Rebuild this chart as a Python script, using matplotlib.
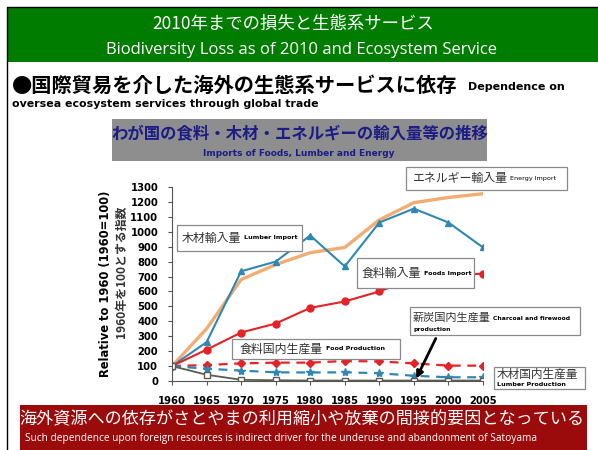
import numpy as np
import matplotlib.pyplot as plt
from matplotlib.patches import Rectangle, FancyArrowPatch

plt.rcParams['font.family'] = ['Noto Sans CJK JP', 'DejaVu Sans']

# 1960=100 とする指数
years = [1960, 1965, 1970, 1975, 1980, 1985, 1990, 1995, 2000, 2005]
energy_import = [100, 350, 680, 780, 860, 895, 1080, 1195, 1230, 1255]
lumber_import = [100, 260, 735, 800, 975, 768, 1062, 1155, 1062, 895]
foods_import = [100, 210, 325, 385, 490, 533, 600, 690, 715, 718]
food_prod = [100, 107, 118, 123, 123, 134, 131, 118, 103, 103]
lumber_prod = [100, 82, 70, 58, 57, 58, 52, 35, 25, 25]
charcoal_prod = [100, 42, 8, 5, 3, 3, 3, 3, 3, 3]
yticks = list(range(0, 1400, 100))

W, H = 598, 450
fig = plt.figure(figsize=(W / 100, H / 100), dpi=100)


def fx(x):
    return x / W


def fy(y):
    return 1 - y / H


def box(x0, y0, x1, y1, fc, ec='none', lw=0.8, z=1):
    fig.patches.append(Rectangle((fx(x0), fy(y1)), fx(x1) - fx(x0), fy(y0) - fy(y1),
                                 transform=fig.transFigure, fc=fc, ec=ec, lw=lw, zorder=z))


def txt(x, y, s, size, **kw):
    kw.setdefault('va', 'center')
    fig.text(fx(x), fy(y), s, fontsize=size, **kw)


# 枠と見出し
fig.add_artist(plt.Line2D([fx(7), fx(7), fx(598)], [fy(450), fy(7), fy(7)],
                          transform=fig.transFigure, color='black', lw=1))
box(8, 8, 598, 62, '#007d00')
txt(293, 24, '2010年までの損失と生態系サービス', 12.5, color='white', ha='center')
txt(301, 50, 'Biodiversity Loss as of 2010 and Ecosystem Service', 12,
    color='white', ha='center', family='Open Sans')
txt(12, 85, '●国際貿易を介した海外の生態系サービスに依存', 14.6, weight='bold')
txt(468, 87, 'Dependence on', 8, weight='bold', family='DejaVu Sans Condensed')
txt(12, 104, 'oversea ecosystem services through global trade', 7.9,
    weight='bold', family='DejaVu Sans Condensed')

box(112, 119, 487, 161, '#8e8e8e')
txt(300, 133, 'わが国の食料・木材・エネルギーの輸入量等の推移', 11.8, weight='bold',
    color='#1c1c86', ha='center')
txt(299, 153, 'Imports of Foods, Lumber and Energy', 6.5, weight='bold',
    color='#1c1c86', ha='center', family='DejaVu Sans Condensed')

# グラフ本体
ax = fig.add_axes([fx(172), fy(381), fx(483) - fx(172), fy(187) - fy(381)])
ax.set_facecolor('none')
ax.plot(years, energy_import, color='#f2ad72', lw=2.4, solid_capstyle='round')
ax.plot(years, lumber_import, color='#2f88b4', lw=1.5, marker='^', ms=4.5)
ax.plot(years, foods_import, color='#e52226', lw=1.5, marker='o', ms=5)
ax.plot(years, food_prod, color='#e52226', lw=1.6, ls=(0, (4, 3)), marker='D', ms=4.5)
ax.plot(years, lumber_prod, color='#2f88b4', lw=1.6, ls=(0, (4, 3)), marker='*', ms=6)
ax.plot(years, charcoal_prod, color='#5c5c50', lw=1.3, marker='s', ms=4.5,
        mfc='white', mec='#5c5c50', mew=1)
ax.set_xlim(1960, 2005)
ax.set_ylim(0, 1300)
ax.set_xticks(years)
ax.set_yticks(yticks)
ax.tick_params(labelsize=7.2, length=3, color='#555555', pad=7)
for lab in ax.get_xticklabels() + ax.get_yticklabels():
    lab.set_fontweight('bold')
    lab.set_family('DejaVu Sans Condensed')
ax.tick_params(axis='x', pad=8)
for s in ['top', 'right']:
    ax.spines[s].set_visible(False)
for s in ['left', 'bottom']:
    ax.spines[s].set_color('#555555')

txt(106, 284, 'Relative to 1960 (1960=100)', 8.3, rotation=90, ha='center',
    weight='bold', family='DejaVu Sans Condensed')
txt(121, 272, '1960年を100とする指数', 8.6, rotation=90, ha='center', weight='bold',
    color='#333333')

# 系列ラベル
labels = [
    (406, 167, 567, 190, 412, 'エネルギー輸入量', 'Energy Import', False),
    (177, 225, 302, 251, 182, '木材輸入量', 'Lumber Import', True),
    (357, 258, 474, 288, 362, '食料輸入量', 'Foods Import', True),
    (232, 339, 400, 359, 240, '食料国内生産量', 'Food Production', True),
]
for x0, y0, x1, y1, tx, jp, en, bold in labels:
    box(x0, y0, x1, y1, 'white', '#8a8a8a', 0.9, z=3)
    n = len(jp)
    fig.text(fx(tx), fy((y0 + y1) / 2), jp, fontsize=8.6, color='#333333', va='center', zorder=4)
    fig.text(fx(tx + n * 12 + 2), fy((y0 + y1) / 2), en, fontsize=4.6, va='center',
             weight='bold' if bold else 'normal', family='DejaVu Sans Condensed', zorder=4)

box(410, 307, 580, 335, 'white', '#8a8a8a', 0.9, z=3)
fig.text(fx(413), fy(318), '薪炭国内生産量', fontsize=8.0, color='#333333', va='center', zorder=4)
fig.text(fx(493), fy(318), 'Charcoal and firewood', fontsize=4.4, va='center',
         weight='bold', family='DejaVu Sans Condensed', zorder=4)
fig.text(fx(413), fy(329), 'production', fontsize=4.4, va='center',
         weight='bold', family='DejaVu Sans Condensed', zorder=4)

box(494, 367, 585, 389, 'white', '#8a8a8a', 0.9, z=3)
fig.text(fx(497), fy(374), '木材国内生産量', fontsize=8.4, color='#333333', va='center', zorder=4)
fig.text(fx(497), fy(385), 'Lumber Production', fontsize=4.6, va='center',
         weight='bold', family='DejaVu Sans Condensed', zorder=4)

fig.patches.append(FancyArrowPatch((fx(437), fy(336)), (fx(415), fy(381)),
                                   transform=fig.transFigure, arrowstyle='-|>',
                                   mutation_scale=10, color='black', lw=2, zorder=5))

# 下部の帯
box(20, 405, 587, 450, '#9c0b0b', z=2)
txt(302, 419, '海外資源への依存がさとやまの利用縮小や放棄の間接的要因となっている', 12.3,
    color='white', ha='center', zorder=3)
txt(25, 439, 'Such dependence upon foreign resources is indirect driver for the underuse '
    'and abandonment of Satoyama', 7.3, color='white', family='Open Sans', zorder=3)

fig.savefig('out.png', dpi=100)
